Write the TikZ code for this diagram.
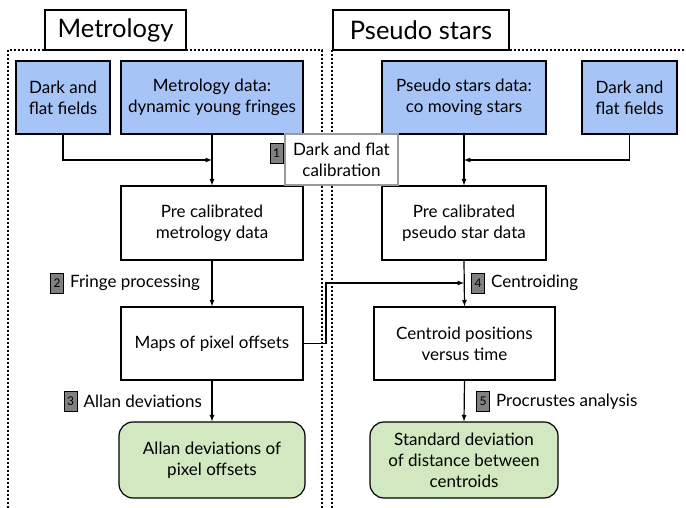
\documentclass[tikz,border=0pt]{standalone}
\usepackage{fontspec}
\setmainfont{Lato}
\usetikzlibrary{arrows}
\usetikzlibrary{calc}
\usetikzlibrary{positioning}
\definecolor{inblue}{HTML}{A7C4F7}
\definecolor{outgreen}{HTML}{D2E8C0}
\definecolor{stepgray}{HTML}{808080}

\begin{document}
\begin{tikzpicture}[
  x=1pt, y=1pt,
  > = latex,
  font=\fontsize{17}{21}\selectfont,
  frame/.style = {line width=1.3pt, dash pattern=on 2pt off 2pt},
  link/.style = {->, line width=1.2pt},
  box/.style = {draw, line width=1.2pt, fill=white, align=center, inner sep=0pt},
  inbox/.style = {box, fill=inblue},
  outbox/.style = {box, fill=outgreen, rounded corners=14pt},
  titlebox/.style = {draw, line width=1.2pt, fill=white, inner sep=0pt, font=\fontsize{25.5}{30}\selectfont},
  calibbox/.style = {draw=gray!80, line width=1.2pt, fill=white, align=center, inner sep=0pt},
  stepno/.style = {draw, fill=stepgray, line width=0.9pt, minimum width=13pt, minimum height=20pt, inner sep=0pt, font=\fontsize{12}{12}\selectfont},
  steplabel/.style = {anchor=west, inner sep=0pt}
  ]
  \useasboundingbox (0,0) rectangle (686,508);

  % frames
  \draw[frame] (8,0) -- (8,458) -- (322,458) -- (322,0);
  \draw[frame] (332,0) -- (332,458) -- (690,458);

  \node[titlebox, minimum width=141pt, minimum height=40pt] (tmetro) at (115.5,478) {Metrology};
  \node[titlebox, minimum width=176pt, minimum height=40pt] (tpseudo) at (421,478) {Pseudo stars};

	% inputs
	\node[inbox, minimum width=94pt, minimum height=73pt] (darkL) at (63,410.5) {Dark and\\flat fields};
	\node[inbox, minimum width=182pt, minimum height=73pt] (metro) at (212,410.5) {Metrology data:\\dynamic young fringes};
	\node[inbox, minimum width=164pt, minimum height=73pt] (pseudo) at (464,410.5) {Pseudo stars data:\\co moving stars};
	\node[inbox, minimum width=95pt, minimum height=73pt] (darkR) at (629.5,410.5) {Dark and\\flat fields};

	% intermediate
	\node[box, minimum width=182pt, minimum height=74pt] (precalM) at (212,285) {Pre calibrated\\metrology data};
	\node[box, minimum width=164pt, minimum height=74pt] (precalP) at (464,285) {Pre calibrated\\pseudo star data};
	\node[box, minimum width=182pt, minimum height=73pt] (maps) at (212,164.5) {Maps of pixel offsets};
	\node[box, minimum width=181pt, minimum height=73pt] (centroid) at (464.5,164.5) {Centroid positions\\versus time};

	% results
	\node[outbox, minimum width=186pt, minimum height=76pt] (allan) at (212,48) {Allan deviations of\\pixel offsets};
	\node[outbox, minimum width=188pt, minimum height=76pt] (stddev) at (464,48) {Standard deviation\\of distance between\\centroids};

	\coordinate (joinL) at (212,348);
	\coordinate (joinR) at (464,348);
	\coordinate (bend) at (326,225);
	\coordinate (joinC) at (464,225);

  	\draw[link] (darkL.south) |- (joinL);
	\draw[link] (metro.south) -- (precalM.north);
  	\draw[link] (darkR.south) |- (joinR);
	\draw[link] (pseudo.south) -- (precalP.north);
	\draw[link] (precalM.south) -- (maps.north);
	\draw[link] (maps.south) -- (allan.north);
	\draw[link] (maps.east) -| (bend) -- (joinC);
	\draw[link] (precalP.south) -- (centroid.north);
	\draw[link] (centroid.south) -- (stddev.north);

	% step labels
	\node[calibbox, minimum width=113pt, minimum height=51pt] (calib) at (341.5,348.5) {Dark and flat\\calibration};
	\node[stepno] (s1) at (276.5,355) {1};
	\node[stepno] (s2) at (57,225) {2};
	\node[steplabel, right=6pt of s2] (l2) {Fringe processing};
	\node[stepno] (s3) at (70.5,107) {3};
	\node[steplabel, right=6pt of s3] (l3) {Allan deviations};
	\node[stepno] (s4) at (478,225) {4};
	\node[steplabel, right=6pt of s4] (l4) {Centroiding};
	\node[stepno] (s5) at (483,106.5) {5};
	\node[steplabel, right=6pt of s5] (l5) {Procrustes analysis};

\end{tikzpicture}
\end{document}
